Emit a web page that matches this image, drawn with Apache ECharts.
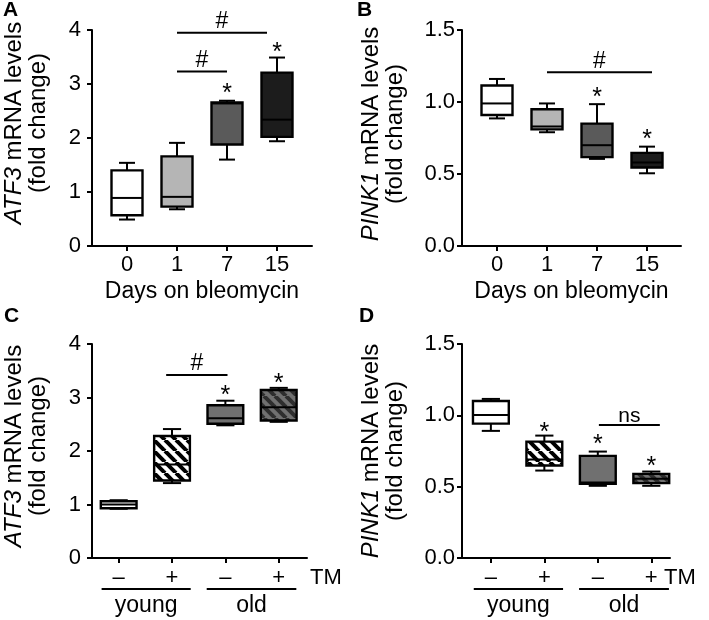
<!DOCTYPE html>
<html><head><meta charset="utf-8">
<script src="https://cdn.jsdelivr.net/npm/echarts@6/dist/echarts.min.js"></script>
<style>html,body{margin:0;padding:0;background:#fff}#c{width:709px;height:620px}</style>
</head><body><div id="c"></div>
<script>
// ---------------- DATA ----------------
const daysCats = ['0', '1', '7', '15'];
const tmCats = ['\u2013', '+', '\u2013', '+'];
const ticksATF3 = ['0', '1', '2', '3', '4'];
const ticksPINK1 = ['0.0', '0.5', '1.0', '1.5'];
// each box: [min, q1, median, q3, max]
const boxesA = [[0.49, 0.57, 0.89, 1.40, 1.54], [0.68, 0.73, 0.91, 1.66, 1.91], [1.60, 1.88, 2.64, 2.66, 2.69], [1.94, 2.02, 2.34, 3.21, 3.49]];
const boxesB = [[0.886, 0.91, 0.99, 1.115, 1.16], [0.79, 0.81, 0.83, 0.95, 0.99], [0.605, 0.617, 0.70, 0.85, 0.985], [0.505, 0.545, 0.58, 0.647, 0.69]];
const boxesC = [[0.92, 0.93, 1.00, 1.06, 1.08], [1.40, 1.45, 1.75, 2.28, 2.41], [2.48, 2.51, 2.61, 2.855, 2.94], [2.545, 2.57, 2.82, 3.14, 3.18]];
const boxesD = [[0.891, 0.942, 1.003, 1.10, 1.115], [0.613, 0.648, 0.69, 0.816, 0.858], [0.506, 0.52, 0.53, 0.716, 0.746], [0.506, 0.525, 0.555, 0.59, 0.606]];
// significance bars: [x1, x2, y, label]
const sigA = [[1, 2.8, 3.95, '#'], [1, 2, 3.23, '#']];
const sigB = [[1, 3.1, 1.206, '#']];
const sigC = [[0.89, 2.04, 3.42, '#']];
const sigD = [[2.02, 3.16, 0.933, 'ns']];
// stars: [x, y]
const starsA = [[2, 2.92], [3, 3.69]];
const starsB = [[2, 1.07], [3, 0.78]];
const starsC = [[2, 3.14], [3, 3.37]];
const starsD = [[1, 0.92], [2, 0.83], [3, 0.68]];
// group underlines: [x1, x2, label]
const groupsTM = [[-0.32, 1.35, 'young'], [1.65, 3.33, 'old']];

// ---------------- STYLE ----------------
const FF = '"Liberation Sans", Arial, Helvetica, sans-serif';
const TICK_FS = 22, NAME_FS = 24, TITLE_FS = 23;
function hatch(bg, fg, size, w) {
  const c = document.createElement('canvas');
  c.width = size; c.height = size;
  const g = c.getContext('2d');
  g.fillStyle = bg; g.fillRect(0, 0, size, size);
  g.strokeStyle = fg; g.lineWidth = w;
  for (let k = -1; k <= 1; k++) {
    g.beginPath(); g.moveTo(k * size, 0); g.lineTo(k * size + size, size); g.stroke();
  }
  return c;
}
const hatchWhite = {image: hatch('#ffffff', '#000000', 11, 4), repeat: 'repeat'};
const hatchGray = {image: hatch('#707070', '#2e2e2e', 11, 4), repeat: 'repeat'};
const fillsDays = ['#ffffff', '#b5b5b5', '#5a5a5a', '#1c1c1c'];
const fillsTM = ['#ffffff', hatchWhite, '#707070', hatchGray];

function boxSeries(idx, boxes, fills, boxW, capW) {
  return {
    type: 'custom', xAxisIndex: idx, yAxisIndex: idx, clip: false,
    data: boxes.map((b, i) => [i].concat(b)),
    encode: {x: 0, y: [1, 2, 3, 4, 5]},
    renderItem: function (params, api) {
      const x = api.value(0);
      const v = [1, 2, 3, 4, 5].map(k => api.coord([x, api.value(k)])[1]);
      const cx = api.coord([x, 0])[0];
      const hw = api.size([boxW, 0])[0] / 2;
      const cw = api.size([capW, 0])[0] / 2;
      const ls = {stroke: '#000', lineWidth: 2};
      return {type: 'group', children: [
        {type: 'line', shape: {x1: cx, y1: v[4], x2: cx, y2: v[3]}, style: ls},
        {type: 'line', shape: {x1: cx, y1: v[1], x2: cx, y2: v[0]}, style: ls},
        {type: 'line', shape: {x1: cx - cw, y1: v[4], x2: cx + cw, y2: v[4]}, style: ls},
        {type: 'line', shape: {x1: cx - cw, y1: v[0], x2: cx + cw, y2: v[0]}, style: ls},
        {type: 'rect', shape: {x: cx - hw, y: v[3], width: 2 * hw, height: v[1] - v[3]},
          style: {fill: fills[params.dataIndex], stroke: '#000', lineWidth: 2.4}},
        {type: 'line', shape: {x1: cx - hw, y1: v[2], x2: cx + hw, y2: v[2]}, style: ls}
      ]};
    }
  };
}
function sigSeries(idx, sig) {
  return {
    type: 'custom', xAxisIndex: idx, yAxisIndex: idx, clip: false,
    data: sig.map(s => [s[0], s[1], s[2]]),
    renderItem: function (params, api) {
      const p1 = api.coord([api.value(0), api.value(2)]);
      const p2 = api.coord([api.value(1), api.value(2)]);
      const lab = sig[params.dataIndex][3];
      const isNs = lab === 'ns';
      return {type: 'group', children: [
        {type: 'line', shape: {x1: p1[0], y1: p1[1], x2: p2[0], y2: p2[1]}, style: {stroke: '#000', lineWidth: 2}},
        {type: 'text', x: (p1[0] + p2[0]) / 2, y: p1[1] - (isNs ? 9 : 11),
          style: {text: lab, fontSize: isNs ? 21 : 23, fontFamily: FF, fill: '#000', align: 'center', verticalAlign: 'middle'}}
      ]};
    }
  };
}
function starSeries(idx, stars) {
  return {
    type: 'custom', xAxisIndex: idx, yAxisIndex: idx, clip: false,
    data: stars,
    renderItem: function (params, api) {
      const p = api.coord([api.value(0), api.value(1)]);
      return {type: 'text', x: p[0], y: p[1] + 6,
        style: {text: '*', fontSize: 25, fontFamily: FF, fill: '#000', align: 'center', verticalAlign: 'middle'}};
    }
  };
}
function groupSeries(idx, groups) {
  return {
    type: 'custom', xAxisIndex: idx, yAxisIndex: idx, clip: false,
    data: groups.map(g => [g[0], g[1]]),
    renderItem: function (params, api) {
      const p1 = api.coord([api.value(0), 0]);
      const p2 = api.coord([api.value(1), 0]);
      const y0 = p1[1];
      return {type: 'group', children: [
        {type: 'line', shape: {x1: p1[0], y1: y0 + 31, x2: p2[0], y2: y0 + 31}, style: {stroke: '#000', lineWidth: 2}},
        {type: 'text', x: (p1[0] + p2[0]) / 2, y: y0 + 48,
          style: {text: groups[params.dataIndex][2], fontSize: TITLE_FS, fontFamily: FF, fill: '#000', align: 'center', verticalAlign: 'middle'}}
      ]};
    }
  };
}

const axisTickS = {show: true, length: 5, lineStyle: {color: '#000', width: 2}};

function xAxisCfg(idx, min, max, cats, opts) {
  const o = {
    type: 'value', gridIndex: idx, min: min, max: max,
    axisLine: {show: true, onZero: false, lineStyle: {color: '#000', width: 2}},
    splitLine: {show: false},
    axisTick: Object.assign({customValues: [0, 1, 2, 3]}, axisTickS),
    axisLabel: {customValues: [0, 1, 2, 3], formatter: v => cats[Math.round(v)], fontSize: TICK_FS, fontFamily: FF, color: '#000', margin: opts.margin}
  };
  return Object.assign(o, opts.extra || {});
}
function yAxisCfg(idx, max, interval, ticks, gene, gap, pad, margin) {
  return {
    type: 'value', gridIndex: idx, min: 0, max: max, interval: interval,
    axisLine: {show: true, onZero: false, lineStyle: {color: '#000', width: 2}},
    axisTick: axisTickS, splitLine: {show: false},
    axisLabel: {formatter: v => ticks[Math.round(v / interval)], fontSize: TICK_FS, fontFamily: FF, color: '#000', margin: margin},
    name: '{i|' + gene + '}{n| mRNA levels}\n{n|(fold change)}',
    nameLocation: 'middle', nameRotate: 90, nameGap: gap,
    nameTextStyle: {fontSize: NAME_FS, fontFamily: FF, color: '#000', lineHeight: 24, padding: [0, 0, 0, pad],
      rich: {i: {fontStyle: 'italic', fontSize: NAME_FS, fontFamily: FF, color: '#000', lineHeight: 24},
             n: {fontSize: NAME_FS, fontFamily: FF, color: '#000', lineHeight: 24}}}
  };
}
const daysName = {name: 'Days on bleomycin', nameLocation: 'middle', nameGap: 34,
  nameTextStyle: {fontSize: TITLE_FS, fontFamily: FF, color: '#000'}};
function tmName(gap) {
  return {name: 'TM', nameLocation: 'end', nameGap: gap,
    nameTextStyle: {fontSize: TICK_FS, fontFamily: FF, color: '#000', verticalAlign: 'top', padding: [9, 0, 0, 0]}};
}

const option = {
  backgroundColor: '#fff',
  animation: false,
  grid: [
    {left: 92, top: 30, width: 220, height: 216, outerBoundsMode: 'none'},
    {left: 462, top: 30, width: 219, height: 216, outerBoundsMode: 'none'},
    {left: 92, top: 344, width: 215, height: 214, outerBoundsMode: 'none'},
    {left: 462, top: 344, width: 208, height: 214, outerBoundsMode: 'none'}
  ],
  xAxis: [
    xAxisCfg(0, -0.7, 3.7, daysCats, {margin: 8, extra: daysName}),
    xAxisCfg(1, -0.7, 3.68, daysCats, {margin: 8, extra: daysName}),
    xAxisCfg(2, -0.5, 3.53, tmCats, {margin: 9, extra: tmName(3)}),
    xAxisCfg(3, -0.54, 3.35, tmCats, {margin: 9, extra: tmName(-6)})
  ],
  yAxis: [
    yAxisCfg(0, 4, 1, ticksATF3, 'ATF3', 42, 30, 11),
    yAxisCfg(1, 1.5, 0.5, ticksPINK1, 'PINK1', 55, 8, 7),
    yAxisCfg(2, 4, 1, ticksATF3, 'ATF3', 42, 10, 11),
    yAxisCfg(3, 1.5, 0.5, ticksPINK1, 'PINK1', 55, 0, 7)
  ],
  graphic: [
    {type: 'text', left: 3, top: 0, style: {text: 'A', font: 'bold 21px ' + FF, fill: '#000'}},
    {type: 'text', left: 357, top: 0, style: {text: 'B', font: 'bold 21px ' + FF, fill: '#000'}},
    {type: 'text', left: 4, top: 306, style: {text: 'C', font: 'bold 21px ' + FF, fill: '#000'}},
    {type: 'text', left: 359, top: 306, style: {text: 'D', font: 'bold 21px ' + FF, fill: '#000'}}
  ],
  series: [
    boxSeries(0, boxesA, fillsDays, 0.62, 0.32),
    boxSeries(1, boxesB, fillsDays, 0.62, 0.32),
    boxSeries(2, boxesC, fillsTM, 0.67, 0.34),
    boxSeries(3, boxesD, fillsTM, 0.67, 0.34),
    sigSeries(0, sigA), sigSeries(1, sigB), sigSeries(2, sigC), sigSeries(3, sigD),
    starSeries(0, starsA), starSeries(1, starsB), starSeries(2, starsC), starSeries(3, starsD),
    groupSeries(2, groupsTM), groupSeries(3, groupsTM)
  ]
};
const chart = echarts.init(document.getElementById('c'), null, {renderer: 'canvas'});
chart.setOption(option);
</script>
</body></html>
